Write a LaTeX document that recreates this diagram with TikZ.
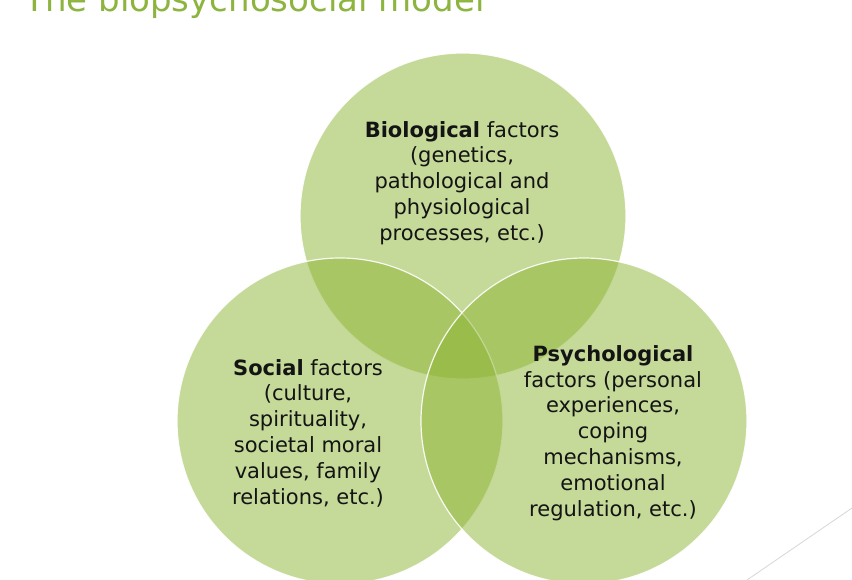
\documentclass[tikz,border=0pt]{standalone}
\usepackage{fontspec}
\setmainfont{DejaVu Sans}
\usepackage{tikz}
\usetikzlibrary{positioning}
\definecolor{bpsgreen}{RGB}{141,180,50}
\definecolor{bpstitle}{RGB}{140,180,62}
\definecolor{slideline}{RGB}{215,215,215}

\begin{document}
\begin{tikzpicture}[x=1pt,y=-1pt,
		factor/.style={circle, minimum size=326pt, inner sep=0pt, fill=bpsgreen, fill opacity=0.5, draw=white, draw opacity=0.9, line width=1.2pt},
		factortext/.style={align=center, font=\fontsize{21}{25.8}\selectfont, text=black!92}]
		\clip (0,0) rectangle (852,580);
		\fill [white] (0,0) rectangle (852,580);
		
		\node at (21,12) [anchor=base west, text=bpstitle, font=\fontsize{34}{40}\selectfont] (title) {The biopsychosocial model};
		
		% the three overlapping circles
		\node at (463,216) [factor] (bio) {};
		\node at (340,421) [factor] (soc) {};
		\node at (584,421) [factor] (psy) {};
		
		\node at (462,183) [factortext] (biotext) {\textbf{Biological} factors\\(genetics,\\pathological and\\physiological\\processes, etc.)};
		\node at (308,433) [factortext] (soctext) {\textbf{Social} factors\\(culture,\\spirituality,\\societal moral\\values, family\\relations, etc.)};
		\node at (613,433) [factortext] (psytext) {\textbf{Psychological}\\factors (personal\\experiences,\\coping\\mechanisms,\\emotional\\regulation, etc.)};
		
		\draw [slideline, line width=0.8pt] (747,580) -- (852,508);
		
		\end{tikzpicture}
\end{document}
